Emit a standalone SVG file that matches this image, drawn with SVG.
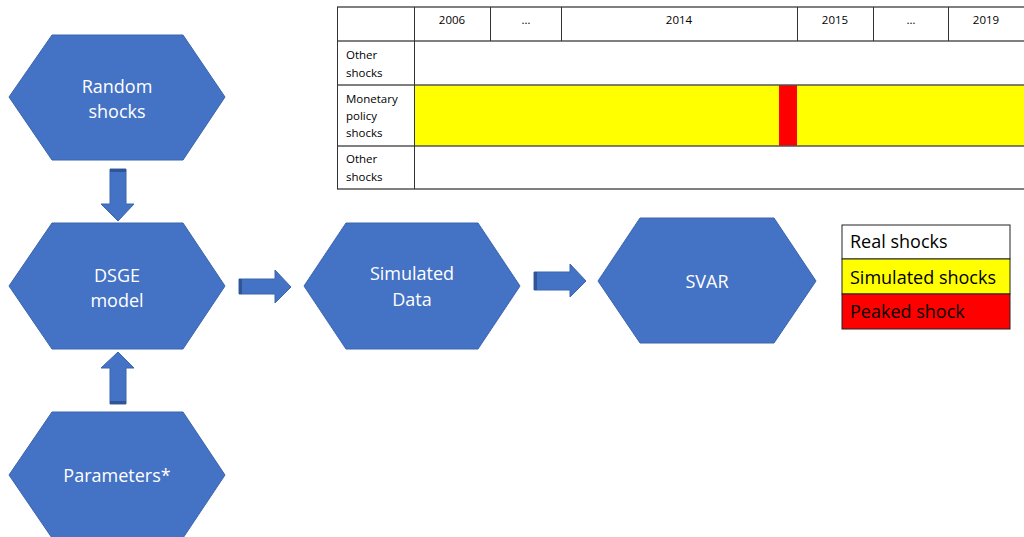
<svg xmlns="http://www.w3.org/2000/svg" width="1024" height="537" viewBox="0 0 1024 537">
<style>
.hex{fill:#4472C4;stroke:#3A64AE;stroke-width:1}
.ht{fill:#FFFFFF;font-family:"Open Sans","Liberation Sans",sans-serif;font-size:18px;text-anchor:middle}
.arr{fill:#4472C4;stroke:#3A64AE;stroke-width:1}
.band{fill:#2F5597}
.tl{fill:#000;font-family:"Open Sans","Liberation Sans",sans-serif;font-size:11.5px}
.yr{fill:#000;font-family:"Open Sans","Liberation Sans",sans-serif;font-size:11.5px;text-anchor:middle}
.hl{stroke:#555;stroke-width:1.5}
.vl{stroke:#333;stroke-width:1}
.lg{fill:#000;font-family:"Open Sans","Liberation Sans",sans-serif;font-size:18px}
</style>
<rect width="1024" height="537" fill="#FFFFFF"/>

<g id="table">
  <rect x="414" y="85" width="610" height="61" fill="#FFFF00"/>
  <rect x="779" y="85" width="18" height="61" fill="#FF0000"/>
  <line class="hl" x1="337" y1="7" x2="1024" y2="7"/>
  <line class="hl" x1="337" y1="41" x2="1024" y2="41"/>
  <line class="hl" x1="337" y1="85" x2="1024" y2="85"/>
  <line class="hl" x1="337" y1="146" x2="1024" y2="146"/>
  <line class="hl" x1="337" y1="189" x2="1024" y2="189"/>
  <line class="vl" x1="337.5" y1="7" x2="337.5" y2="189"/>
  <line class="vl" x1="414.5" y1="7" x2="414.5" y2="189"/>
  <line class="vl" x1="490.5" y1="7" x2="490.5" y2="41"/>
  <line class="vl" x1="561.5" y1="7" x2="561.5" y2="41"/>
  <line class="vl" x1="797.5" y1="7" x2="797.5" y2="41"/>
  <line class="vl" x1="873.5" y1="7" x2="873.5" y2="41"/>
  <line class="vl" x1="948.5" y1="7" x2="948.5" y2="41"/>
  <text class="yr" x="452" y="24">2006</text>
  <text class="yr" x="526" y="24">…</text>
  <text class="yr" x="679" y="24">2014</text>
  <text class="yr" x="835" y="24">2015</text>
  <text class="yr" x="911" y="24">…</text>
  <text class="yr" x="986" y="24">2019</text>
  <text class="tl" x="346" y="59">Other</text>
  <text class="tl" x="346" y="77">shocks</text>
  <text class="tl" x="346" y="103">Monetary</text>
  <text class="tl" x="346" y="120">policy</text>
  <text class="tl" x="346" y="137">shocks</text>
  <text class="tl" x="346" y="163">Other</text>
  <text class="tl" x="346" y="181">shocks</text>
</g>

<g id="node-random">
  <polygon class="hex" points="9,97 52,35 183,35 225,97 183,160 52,160"/>
  <text class="ht" x="117" y="93">Random</text>
  <text class="ht" x="117" y="118">shocks</text>
</g>
<g id="node-dsge">
  <polygon class="hex" points="9,286 52,223 183,223 225,286 183,349 52,349"/>
  <text class="ht" x="117" y="282">DSGE</text>
  <text class="ht" x="117" y="307">model</text>
</g>
<g id="node-parameters">
  <polygon class="hex" points="9,475 52,412 183,412 225,475 183,538 52,538"/>
  <text class="ht" x="117" y="482">Parameters*</text>
</g>
<g id="node-simulated">
  <polygon class="hex" points="304,286 346,223 478,223 520,286 478,349 346,349"/>
  <text class="ht" x="412" y="280">Simulated</text>
  <text class="ht" x="412" y="306">Data</text>
</g>
<g id="node-svar">
  <polygon class="hex" points="598,281 640,218 774,218 816,281 774,343 640,343"/>
  <text class="ht" x="707" y="288">SVAR</text>
</g>

<g id="connectors">
  <polygon class="arr" points="110,169 126,169 126,204 134,204 118,221 101,204 110,204"/>
  <rect class="band" x="110" y="169" width="16" height="3"/>
  <polygon class="arr" points="110,404 126,404 126,368 134,368 118,352 101,368 110,368"/>
  <rect class="band" x="110" y="401" width="16" height="3"/>
  <polygon class="arr" points="239,279 275,279 275,270 291,287 275,303 275,294 239,294"/>
  <rect class="band" x="239" y="279" width="3" height="15"/>
  <polygon class="arr" points="534,272 570,272 570,264 586,281 570,297 570,290 534,290"/>
  <rect class="band" x="534" y="272" width="3" height="18"/>
</g>

<g id="legend">
  <rect x="842" y="225" width="168" height="34" fill="#FFFFFF" stroke="#222" stroke-width="1"/>
  <rect x="842" y="259" width="168" height="35" fill="#FFFF00" stroke="#222" stroke-width="1"/>
  <rect x="842" y="294" width="168" height="35" fill="#FF0000" stroke="#222" stroke-width="1"/>
  <text class="lg" x="850" y="248">Real shocks</text>
  <text class="lg" x="850" y="284">Simulated shocks</text>
  <text class="lg" x="850" y="318">Peaked shock</text>
</g>
</svg>
